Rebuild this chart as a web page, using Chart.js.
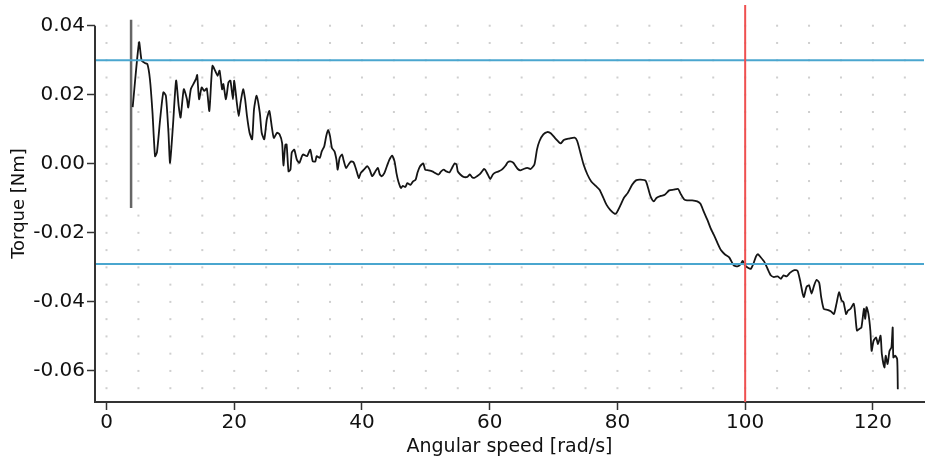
<!DOCTYPE html>
<html>
<head>
<meta charset="utf-8">
<script src="https://cdn.jsdelivr.net/npm/chart.js@4/dist/chart.umd.min.js"></script>
<style>
html,body{margin:0;padding:0;background:#fff;}
#wrap{width:925px;height:459px;position:relative;}
</style>
</head>
<body>
<div id="wrap"><canvas id="c" width="925" height="459"></canvas></div>
<script>
// ---- data ----
const speedValues = [4.1,5.1,5.5,6.0,6.4,6.8,7.2,7.6,7.9,8.4,8.9,9.3,9.7,9.95,10.4,10.9,11.3,11.6,12.1,12.6,12.8,13.2,13.6,14.0,14.2,14.5,14.9,15.3,15.7,16.1,16.4,16.6,17.0,17.4,17.7,18.1,18.3,18.7,19.1,19.4,19.8,20.0,20.4,20.7,21.0,21.4,21.7,22.0,22.4,22.8,23.1,23.5,24.0,24.3,24.7,25.1,25.5,25.9,26.2,26.7,27.1,27.5,27.7,28.0,28.2,28.5,28.8,29.0,29.4,29.8,30.2,30.6,30.8,31.4,31.9,32.3,32.7,32.9,33.4,33.7,34.1,34.4,34.7,35.0,35.3,35.7,36.0,36.2,36.5,36.9,37.1,37.5,37.9,38.3,38.7,39.1,39.5,39.8,40.3,40.8,41.2,41.6,42.1,42.5,42.8,43.1,43.5,43.9,44.3,44.7,45.1,45.4,45.7,46.1,46.4,46.8,47.1,47.6,48.0,48.4,48.7,49.1,49.6,49.9,50.4,51.0,51.5,52.0,52.4,52.8,53.2,53.7,54.1,54.5,54.8,55.0,55.4,55.9,56.5,56.9,57.2,57.6,58.0,58.5,59.1,59.3,59.7,60.1,60.5,60.9,61.4,61.9,62.5,62.8,63.2,63.7,64.0,64.4,64.8,65.3,65.9,66.4,67.0,67.4,67.8,68.4,69.0,69.6,70.3,71.1,71.6,72.4,73.3,73.7,74.2,74.7,75.3,75.9,76.6,77.2,77.8,78.3,78.9,79.6,79.9,80.5,81.0,81.6,82.3,82.9,83.6,84.4,84.8,85.2,85.7,86.1,86.8,87.4,88.1,88.8,89.5,89.9,90.4,90.9,91.7,92.5,93.0,93.5,94.1,94.6,95.1,95.7,96.2,96.8,97.5,98.2,98.8,99.3,99.6,100.0,100.5,100.9,101.3,101.7,102.0,102.4,103.0,103.5,104.0,104.5,105.1,105.6,106.0,106.5,107.0,107.7,108.2,108.6,109.0,109.2,109.6,110.0,110.4,110.8,111.2,111.6,111.9,112.3,112.9,113.4,113.9,114.3,114.7,115.1,115.4,115.8,116.1,116.5,117.0,117.2,117.5,117.9,118.2,118.6,118.8,119.0,119.3,119.6,119.8,120.1,120.5,120.8,121.2,121.4,121.8,122.0,122.3,122.6,122.9,123.1,123.2,123.5,123.8,123.9];
const torqueValues = [0.0164,0.0352,0.0299,0.0292,0.0289,0.0245,0.0149,0.0022,0.0033,0.0129,0.0207,0.0197,0.0091,0.0003,0.0109,0.0241,0.0168,0.0134,0.0216,0.0187,0.0163,0.0216,0.0231,0.0245,0.0257,0.0187,0.0221,0.0211,0.0218,0.0153,0.0241,0.0284,0.0270,0.0255,0.0270,0.0216,0.0231,0.0187,0.0236,0.0241,0.0187,0.0241,0.0178,0.0138,0.0178,0.0216,0.0187,0.0138,0.0090,0.0071,0.0158,0.0197,0.0148,0.0090,0.0071,0.0129,0.0153,0.0105,0.0075,0.0090,0.0085,0.0060,-0.0005,0.0055,0.0056,-0.0022,-0.0017,0.0032,0.0041,0.0012,0.0003,0.0022,0.0027,0.0022,0.0041,0.0007,0.0007,0.0022,0.0017,0.0036,0.0051,0.0080,0.0098,0.0080,0.0046,0.0036,0.0012,-0.0017,0.0017,0.0027,0.0012,-0.0012,-0.0002,0.0007,0.0004,-0.0017,-0.0041,-0.0027,-0.0017,-0.0007,-0.0017,-0.0036,-0.0022,-0.0012,-0.0031,-0.0036,-0.0027,-0.0007,0.0012,0.0024,0.0007,-0.0027,-0.0051,-0.0070,-0.0064,-0.0067,-0.0056,-0.0061,-0.0051,-0.0046,-0.0025,-0.0007,0.0001,-0.0017,-0.0019,-0.0022,-0.0027,-0.0031,-0.0022,-0.0017,-0.0022,-0.0025,-0.0012,0.0001,-0.0002,-0.0022,-0.0031,-0.0038,-0.0038,-0.0031,-0.0038,-0.0041,-0.0036,-0.0029,-0.0015,-0.0017,-0.0031,-0.0044,-0.0031,-0.0025,-0.0022,-0.0017,-0.0005,0.0004,0.0007,0.0003,-0.0005,-0.0015,-0.0019,-0.0015,-0.0012,-0.0015,-0.0002,0.0041,0.0066,0.0085,0.0092,0.0088,0.0073,0.0059,0.0069,0.0073,0.0076,0.0066,0.0032,-0.0002,-0.0031,-0.0051,-0.0064,-0.0075,-0.0099,-0.0119,-0.0134,-0.0145,-0.0141,-0.0119,-0.0099,-0.0085,-0.0061,-0.0048,-0.0046,-0.0049,-0.0070,-0.0095,-0.0109,-0.0099,-0.0093,-0.0090,-0.0077,-0.0075,-0.0073,-0.0087,-0.0102,-0.0106,-0.0106,-0.0109,-0.0116,-0.0138,-0.0163,-0.0187,-0.0206,-0.0231,-0.0250,-0.0262,-0.0271,-0.0294,-0.0297,-0.0291,-0.0281,-0.0295,-0.0302,-0.0304,-0.0289,-0.0268,-0.0262,-0.0270,-0.0284,-0.0304,-0.0323,-0.0328,-0.0326,-0.0333,-0.0323,-0.0326,-0.0316,-0.0308,-0.0310,-0.0338,-0.0376,-0.0386,-0.0357,-0.0352,-0.0376,-0.0352,-0.0336,-0.0345,-0.0386,-0.0420,-0.0423,-0.0427,-0.0435,-0.0405,-0.0372,-0.0396,-0.0401,-0.0435,-0.0425,-0.0420,-0.0405,-0.0430,-0.0483,-0.0478,-0.0474,-0.0420,-0.0449,-0.0415,-0.0435,-0.0483,-0.0542,-0.0513,-0.0503,-0.0522,-0.0498,-0.0551,-0.0590,-0.0556,-0.0580,-0.0542,-0.0532,-0.0474,-0.0561,-0.0556,-0.0566,-0.0653];
const spikeSpeed = [3.85, 3.85];
const spikeTorque = [0.0417, -0.0128];
const limitUpper = 0.030;
const limitLower = -0.029;
const markerSpeed = 100;
const xTickValues = [0, 20, 40, 60, 80, 100, 120];
const yTickValues = [-0.06, -0.04, -0.02, 0.00, 0.02, 0.04];
const xTitle = 'Angular speed [rad/s]';
const yTitle = 'Torque [Nm]';

const X_MIN = -1.8, X_MAX = 128, Y_MIN = -0.069, Y_MAX = 0.046;
const FONT = 'DejaVu Sans';

const pts = (xs, ys) => xs.map((x, i) => ({x, y: ys[i]}));

const dotGrid = {
  id: 'dotGrid',
  beforeDatasetsDraw(chart) {
    const {ctx, scales: {x, y}} = chart;
    ctx.save();
    ctx.fillStyle = '#cfcfcf';
    for (let i = 0; i <= 25; i++) {
      const px = x.getPixelForValue(i * 5);
      for (let j = 0; j <= 21; j++) {
        const py = y.getPixelForValue(-0.065 + j * 0.005);
        ctx.fillRect(px - 1, py - 1, 2, 2);
      }
    }
    ctx.restore();
  }
};
const yAxisLine = {
  id: 'yAxisLine',
  afterDraw(chart) {
    const {ctx, chartArea, scales: {y}} = chart;
    ctx.save();
    ctx.strokeStyle = '#333';
    ctx.lineWidth = 2;
    ctx.beginPath();
    ctx.moveTo(chartArea.left, chartArea.bottom);
    ctx.lineTo(chartArea.left, y.getPixelForValue(yTickValues[yTickValues.length - 1]));
    ctx.stroke();
    ctx.restore();
  }
};

new Chart(document.getElementById('c'), {
  type: 'scatter',
  data: {
    datasets: [
      {data: pts([markerSpeed, markerSpeed], [Y_MIN, Y_MAX]), showLine: true, borderColor: '#ef5050', borderWidth: 2, pointRadius: 0},
      {data: pts([X_MIN, X_MAX], [limitUpper, limitUpper]), showLine: true, borderColor: '#4aa6cf', borderWidth: 2, pointRadius: 0},
      {data: pts([X_MIN, X_MAX], [limitLower, limitLower]), showLine: true, borderColor: '#4aa6cf', borderWidth: 2, pointRadius: 0},
      {data: pts(speedValues, torqueValues), showLine: true, borderColor: '#151515', borderWidth: 1.8, pointRadius: 0, tension: 0.2},
      {data: pts(spikeSpeed, spikeTorque), showLine: true, borderColor: '#666', borderWidth: 2.5, pointRadius: 0}
    ]
  },
  options: {
    responsive: false,
    animation: false,
    layout: {padding: {top: 5, right: 1, left: 0, bottom: 0}},
    plugins: {legend: {display: false}, tooltip: {enabled: false}},
    scales: {
      x: {
        type: 'linear', min: X_MIN, max: X_MAX,
        afterFit(s) { s.height = 57; s.paddingLeft = 0; s.paddingRight = 0; },
        afterBuildTicks(s) { s.ticks = xTickValues.map(v => ({value: v})); },
        ticks: {font: {family: FONT, size: 20}, color: '#111', padding: 1, maxRotation: 0,
                callback: v => String(v)},
        grid: {drawOnChartArea: false, drawTicks: true, tickLength: 8, tickColor: '#333', tickWidth: 1.5},
        border: {display: true, color: '#333', width: 2},
        title: {display: true, text: xTitle, font: {family: FONT, size: 19}, color: '#111', padding: {top: 0, bottom: 1}}
      },
      y: {
        type: 'linear', min: Y_MIN, max: Y_MAX,
        afterFit(s) { s.width = 95; s.paddingTop = 0; s.paddingBottom = 0; },
        afterBuildTicks(s) { s.ticks = yTickValues.map(v => ({value: v})); },
        ticks: {font: {family: FONT, size: 20}, color: '#111', padding: 2,
                callback: v => (Math.abs(v) < 1e-9 ? 0 : v).toFixed(2)},
        grid: {drawOnChartArea: false, drawTicks: true, tickLength: 8, tickColor: '#333', tickWidth: 1.5},
        border: {display: false},
        title: {display: true, text: yTitle, font: {family: FONT, size: 18}, color: '#111', padding: {top: 9, bottom: 0}}
      }
    }
  },
  plugins: [dotGrid, yAxisLine]
});
</script>
</body>
</html>
